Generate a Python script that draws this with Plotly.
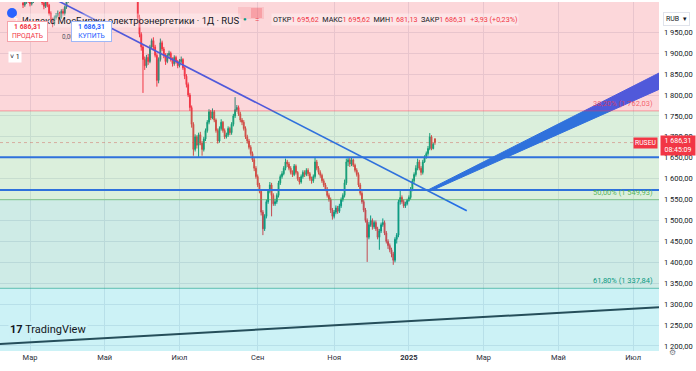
import pandas as pd
import plotly.graph_objects as go

# ---------------- data ----------------
first_day = "2024-02-26"          # first visible daily bar
first_open = 2020.0
last_open = 1695.62               # open of the last bar (from header)

close = [2015, 2022, 2030, 2025,
         2018, 2024, 2035, 2045, 2040, 2038, 2032, 2020, 2012, 2025,
         2015, 1995, 1980, 1970, 1985, 1990, 1995, 1985, 2000, 1995,
         2010, 2025, 2030, 2045, 2040, 2050, 2060, 2055, 2070, 2085,
         2080, 2095, 2110, 2100, 2090, 2105, 2120, 2115, 2130, 2125,
         2140, 2150, 2145, 2135, 2150, 2160, 2155, 2140, 2130, 2145,
         2150, 2135, 2120, 2110, 2125, 2115, 2100, 2090, 2080, 2070,
         2060, 2045, 1985, 1945, 1915, 1885, 1870, 1890, 1880, 1915,
         1930, 1915, 1895, 1835, 1885, 1925, 1910, 1895, 1880, 1895,
         1900, 1885, 1875, 1890, 1880, 1870, 1880, 1885, 1865, 1845,
         1825, 1800, 1770, 1730, 1670, 1700, 1680, 1705, 1685, 1670,
         1695, 1715, 1735, 1760, 1745, 1760, 1740, 1715, 1690, 1720,
         1735, 1715, 1700, 1705, 1720, 1710, 1730, 1750, 1765, 1770,
         1755, 1740, 1735, 1720, 1700, 1690, 1675, 1660, 1645, 1625,
         1605, 1585, 1570, 1520, 1480, 1510, 1545, 1570, 1585, 1560,
         1540, 1545, 1560, 1590, 1605, 1612, 1625, 1640, 1635, 1625,
         1615, 1610, 1630, 1615, 1600, 1592, 1605, 1615, 1610, 1620,
         1612, 1600, 1595, 1605, 1640, 1625, 1615, 1608, 1595, 1585,
         1575, 1560, 1550, 1525, 1510, 1520, 1530, 1522, 1535, 1550,
         1560, 1590, 1640, 1645, 1635, 1645, 1632, 1620, 1610, 1585,
         1565, 1545, 1525, 1500, 1460, 1490, 1500, 1485, 1495, 1480,
         1460, 1475, 1490, 1495, 1470, 1450, 1440, 1430, 1420, 1405,
         1455, 1465, 1545, 1555, 1545, 1535, 1540, 1548, 1555, 1575,
         1595, 1610, 1625, 1640, 1625, 1615, 1640, 1650, 1660, 1672,
         1700, 1672, 1682.38, 1686.31]

high = [2026, 2027, 2036, 2034,
        2030, 2028, 2040, 2052, 2050, 2046, 2042, 2036, 2024, 2030,
        2030, 2018, 2000, 1985, 1990, 1996, 2002, 1999, 2005, 2006,
        2014, 2028, 2036, 2050, 2052, 2055, 2066, 2064, 2075, 2092,
        2090, 2100, 2116, 2115, 2104, 2110, 2126, 2124, 2136, 2134,
        2146, 2158, 2156, 2150, 2156, 2168, 2165, 2160, 2146, 2150,
        2156, 2154, 2140, 2125, 2130, 2128, 2118, 2104, 2094, 2085,
        2075, 2064, 2050, 1992, 1950, 1920, 1892, 1896, 1898, 1920,
        1935, 1938, 1920, 1900, 1890, 1935, 1930, 1915, 1900, 1900,
        1906, 1904, 1890, 1895, 1894, 1884, 1886, 1892, 1888, 1868,
        1850, 1830, 1805, 1775, 1735, 1706, 1704, 1710, 1712, 1690,
        1700, 1720, 1740, 1766, 1764, 1768, 1764, 1744, 1720, 1725,
        1742, 1738, 1720, 1710, 1725, 1724, 1735, 1755, 1795, 1776,
        1775, 1760, 1745, 1740, 1725, 1705, 1695, 1680, 1665, 1650,
        1630, 1610, 1590, 1575, 1525, 1515, 1550, 1575, 1592, 1590,
        1565, 1552, 1565, 1595, 1610, 1618, 1630, 1648, 1645, 1640,
        1630, 1620, 1635, 1634, 1618, 1604, 1610, 1620, 1620, 1625,
        1625, 1616, 1605, 1610, 1652, 1645, 1630, 1620, 1612, 1600,
        1590, 1580, 1565, 1555, 1530, 1525, 1536, 1535, 1540, 1555,
        1565, 1598, 1648, 1652, 1650, 1650, 1648, 1636, 1625, 1615,
        1590, 1570, 1550, 1530, 1505, 1496, 1512, 1505, 1500, 1500,
        1485, 1480, 1495, 1505, 1500, 1475, 1455, 1445, 1435, 1425,
        1460, 1470, 1550, 1573, 1560, 1550, 1545, 1552, 1560, 1580,
        1600, 1615, 1632, 1648, 1645, 1630, 1645, 1656, 1665, 1678,
        1709, 1704, 1686, 1695.62]

low = [2008, 2011, 2018, 2020,
       2012, 2014, 2020, 2032, 2036, 2033, 2028, 2015, 2005, 2008,
       2010, 1990, 1975, 1962, 1966, 1980, 1986, 1980, 1982, 1990,
       1990, 2006, 2020, 2028, 2035, 2036, 2045, 2050, 2052, 2066,
       2074, 2076, 2090, 2095, 2084, 2086, 2100, 2110, 2112, 2118,
       2120, 2135, 2140, 2130, 2130, 2145, 2150, 2135, 2124, 2126,
       2140, 2130, 2115, 2104, 2106, 2110, 2095, 2085, 2075, 2064,
       2055, 2040, 1978, 1938, 1906, 1805, 1860, 1865, 1872, 1876,
       1910, 1908, 1890, 1820, 1828, 1880, 1905, 1888, 1872, 1876,
       1888, 1880, 1868, 1870, 1875, 1864, 1866, 1876, 1860, 1838,
       1818, 1795, 1762, 1722, 1655, 1665, 1672, 1652, 1680, 1655,
       1665, 1690, 1710, 1730, 1740, 1742, 1735, 1710, 1684, 1686,
       1715, 1710, 1695, 1696, 1700, 1704, 1705, 1725, 1745, 1760,
       1750, 1735, 1728, 1715, 1695, 1684, 1670, 1655, 1640, 1618,
       1600, 1580, 1565, 1512, 1465, 1475, 1505, 1540, 1565, 1510,
       1535, 1535, 1540, 1555, 1585, 1600, 1608, 1620, 1628, 1620,
       1610, 1604, 1606, 1610, 1595, 1586, 1588, 1600, 1604, 1606,
       1606, 1595, 1588, 1590, 1600, 1620, 1610, 1602, 1590, 1580,
       1570, 1555, 1545, 1518, 1502, 1505, 1515, 1516, 1518, 1530,
       1545, 1555, 1585, 1630, 1628, 1630, 1628, 1615, 1605, 1580,
       1560, 1540, 1520, 1495, 1401, 1455, 1485, 1478, 1480, 1475,
       1455, 1430, 1470, 1485, 1465, 1445, 1432, 1424, 1412, 1394,
       1400, 1445, 1460, 1538, 1540, 1530, 1530, 1536, 1545, 1550,
       1570, 1590, 1605, 1620, 1620, 1608, 1610, 1638, 1648, 1655,
       1668, 1668, 1670, 1681.13]

# Fibonacci retracement levels (ratio, price)
fib_ratio = [0.236, 0.382, 0.5, 0.618, 0.786]
fib_price = [2024.46, 1762.03, 1549.93, 1337.84, 1035.87]
fib_labeled = [False, True, True, True, False]

# user drawings
hline_prices = [1651.0, 1573.0]
trend_dates = ["2024-03-25", "2025-02-17 07:00"]
trend_prices = [2025.5, 1523.4]
wedge_dates = ["2025-01-16", "2025-08-22", "2025-08-22", "2025-01-21"]
wedge_prices = [1573.0, 1918.0, 1871.0, 1573.0]
base_dates = ["2024-01-01", "2025-09-01"]
base_prices = [1196.5, 1302.0]

# axes
x_range = ["2024-02-06 17:46", "2025-07-21 21:36"]
y_range = [1188.0, 2022.4]
price_ticks = [1200, 1250, 1300, 1350, 1400, 1450, 1500, 1550, 1600,
               1650, 1700, 1750, 1800, 1850, 1900, 1950]
month_ticks = ["2024-03-01", "2024-05-01", "2024-07-01", "2024-09-02",
               "2024-11-01", "2025-01-01", "2025-03-03", "2025-05-01",
               "2025-07-01"]
month_labels = ["Мар", "Май", "Июл", "Сен", "Ноя", "<b>2025</b>",
                "Мар", "Май", "Июл"]

title_text = "Индекс МосБиржи электроэнергетики · 1Д · RUS"
symbol_tag = "RUSEU"
countdown = "08:45:09"

# ---------------- helpers ----------------
def fmt(v):
    return f"{v:,.2f}".replace(",", " ").replace(".", ",")

dates = pd.bdate_range(first_day, periods=len(close))
opens = [first_open] + close[:-1]
opens[-1] = last_open

UP, DOWN = "#089981", "#f23645"
BLUE = "#2962ff"
PL, PR, PT, PB = 0, 659, 2, 351


def px(x):
    return (x - PL) / (PR - PL)


def py(y):
    return (PB - y) / (PB - PT)


fig = go.Figure()

fig.add_trace(go.Candlestick(
    x=dates, open=opens, high=high, low=low, close=close,
    increasing=dict(line=dict(color=UP, width=1), fillcolor=UP),
    decreasing=dict(line=dict(color=DOWN, width=1), fillcolor=DOWN),
    whiskerwidth=0, hoverinfo="skip"))

# last price dotted line
fig.add_trace(go.Scatter(x=x_range, y=[close[-1], close[-1]], mode="lines",
                         line=dict(color=DOWN, width=1, dash="dot"),
                         opacity=0.4, hoverinfo="skip"))

# long-term dark trend line
fig.add_trace(go.Scatter(x=base_dates, y=base_prices, mode="lines",
                         line=dict(color="#2f323c", width=2), hoverinfo="skip"))

# horizontal levels
for p in hline_prices:
    fig.add_trace(go.Scatter(x=x_range, y=[p, p], mode="lines",
                             line=dict(color=BLUE, width=2), hoverinfo="skip"))

# descending trend line
fig.add_trace(go.Scatter(x=trend_dates, y=trend_prices, mode="lines",
                         line=dict(color=BLUE, width=1.6), hoverinfo="skip"))

# thick rising wedge
fig.add_trace(go.Scatter(x=wedge_dates, y=wedge_prices, mode="lines",
                         fill="toself", fillcolor=BLUE,
                         line=dict(color=BLUE, width=1), hoverinfo="skip"))

# ---------------- fib zones (drawn above the series, translucent) ----------
zone_colors = ["rgba(242,54,69,0.2)", "rgba(76,175,80,0.2)",
               "rgba(8,153,129,0.2)", "rgba(0,188,212,0.2)"]
line_colors = ["rgba(242,54,69,0.35)", "rgba(242,54,69,0.35)",
               "rgba(76,175,80,0.45)", "rgba(8,153,129,0.45)",
               "rgba(0,188,212,0.45)"]
label_colors = ["#f23645", "rgba(242,54,69,0.75)", "rgba(76,175,80,0.95)",
                "#089981", "#00bcd4"]
shapes = []
for i in range(len(fib_price) - 1):
    shapes.append(dict(type="rect", xref="paper", yref="y", x0=0, x1=1,
                       y0=fib_price[i + 1], y1=fib_price[i],
                       fillcolor=zone_colors[i], line=dict(width=0),
                       layer="above"))
for i, p in enumerate(fib_price):
    shapes.append(dict(type="line", xref="paper", yref="y", x0=0, x1=1,
                       y0=p, y1=p, line=dict(color=line_colors[i], width=1.2),
                       layer="above"))

# header icon + status pill
shapes.append(dict(type="circle", xref="paper", yref="paper",
                   x0=px(7), x1=px(17), y0=py(18), y1=py(8),
                   fillcolor=BLUE, line=dict(width=0), layer="above"))
shapes.append(dict(type="rect", xref="paper", yref="paper",
                   x0=px(238), x1=px(264), y0=py(19), y1=py(7),
                   fillcolor="rgba(242,54,69,0.12)", line=dict(width=0),
                   layer="above"))
shapes.append(dict(type="rect", xref="paper", yref="paper",
                   x0=px(251), x1=px(262), y0=py(18), y1=py(8),
                   fillcolor="rgba(242,54,69,0.25)", line=dict(width=0),
                   layer="above"))

annotations = []
for i, p in enumerate(fib_price):
    if not fib_labeled[i]:
        continue
    txt = f"{fib_ratio[i] * 100:.2f}".replace(".", ",") + "% (" + fmt(p) + ")"
    annotations.append(dict(xref="paper", yref="y", x=px(655), y=p,
                            xanchor="right", yanchor="bottom", yshift=1,
                            text=txt, showarrow=False,
                            font=dict(size=7.5, color=label_colors[i])))

red = lambda s: f"<span style='color:{DOWN}'>{s}</span>"
chg = close[-1] - close[-2]
pct = chg / close[-2] * 100
nb = "\u00a0"
ohlc = ("ОТКР" + red(fmt(opens[-1])) + nb * 2 + "МАКС" + red(fmt(high[-1])) + nb * 2 +
        "МИН" + red(fmt(low[-1])) + nb * 2 + "ЗАКР" + red(fmt(close[-1])) + nb * 2 +
        red(("+" if chg >= 0 else "") + fmt(chg) + " (" + ("+" if pct >= 0 else "") +
            f"{pct:.2f}".replace(".", ",") + "%)"))

annotations += [
    dict(xref="paper", yref="paper", x=px(12), y=py(13), text="ϟ",
         showarrow=False, font=dict(size=7, color="white")),
    dict(xref="paper", yref="paper", x=px(20), y=py(13), xanchor="left",
         text=title_text, showarrow=False, bgcolor="rgba(255,255,255,0.3)",
         font=dict(size=9.5, color="#131722")),
    dict(xref="paper", yref="paper", x=px(245), y=py(13), text="●",
         showarrow=False, font=dict(size=6, color=UP)),
    dict(xref="paper", yref="paper", x=px(256.5), y=py(13), text="=",
         showarrow=False, font=dict(size=8, color=DOWN)),
    dict(xref="paper", yref="paper", x=px(271), y=py(13), xanchor="left",
         text=ohlc, showarrow=False, bgcolor="rgba(255,255,255,0.35)",
         font=dict(size=7.2, color="#131722")),
    dict(xref="paper", yref="paper", x=px(7), y=py(21), xanchor="left",
         yanchor="top", text="<b>" + fmt(close[-1]) + "</b><br>ПРОДАТЬ",
         showarrow=False, bgcolor="white", bordercolor="#f5a3aa",
         borderwidth=1, borderpad=1, width=37,
         font=dict(size=6.8, color=DOWN)),
    dict(xref="paper", yref="paper", x=px(60), y=py(31), text="0,00",
         showarrow=False, font=dict(size=6.3, color="#50535e")),
    dict(xref="paper", yref="paper", x=px(71), y=py(21), xanchor="left",
         yanchor="top", text="<b>" + fmt(close[-1]) + "</b><br>КУПИТЬ",
         showarrow=False, bgcolor="white", bordercolor="#9fb7f7",
         borderwidth=1, borderpad=1, width=37,
         font=dict(size=6.8, color=BLUE)),
    dict(xref="paper", yref="paper", x=px(8), y=py(51), xanchor="left",
         text="˅ 1", showarrow=False, bgcolor="white",
         font=dict(size=7, color="#131722")),
    dict(xref="paper", yref="paper", x=px(8), y=py(338), xanchor="left",
         text="<b>17</b> TradingView", showarrow=False, bgcolor="#ccf1f6",
         font=dict(size=11, color="#131722")),
    dict(xref="paper", yref="paper", x=px(663), y=py(12), xanchor="left",
         text="RUB " + nb + "▾", showarrow=False, bgcolor="white",
         bordercolor="#e0e3eb", borderwidth=1, borderpad=2,
         font=dict(size=7, color="#131722")),
    dict(xref="paper", yref="y", x=px(658), y=close[-1], xanchor="right",
         yanchor="middle", text=symbol_tag, showarrow=False,
         bgcolor=DOWN, borderpad=1, font=dict(size=6.8, color="white")),
    dict(xref="paper", yref="y", x=px(660), y=close[-1], xanchor="left",
         yanchor="middle", yshift=-3, text=fmt(close[-1]) + "<br>" + countdown,
         showarrow=False, bgcolor=DOWN, borderpad=1, width=32,
         font=dict(size=7, color="white")),
    dict(xref="paper", yref="paper", x=px(678), y=py(359), text="⚙",
         showarrow=False, font=dict(size=8, color="#787b86")),
]

fig.update_layout(
    width=696, height=371,
    margin=dict(l=PL, r=696 - PR, t=PT, b=371 - PB),
    paper_bgcolor="white", plot_bgcolor="white",
    showlegend=False, hovermode=False, boxgap=0.3,
    font=dict(family="Roboto, sans-serif", size=8, color="#131722"),
    xaxis=dict(type="date", range=x_range,
               rangebreaks=[dict(bounds=["sat", "mon"])],
               tickvals=month_ticks, ticktext=month_labels,
               showgrid=True, gridcolor="#e6e9ef", zeroline=False,
               showline=False, ticks="", rangeslider=dict(visible=False),
               tickfont=dict(size=7.5, color="#2a2e39")),
    yaxis=dict(side="right", range=y_range, tickvals=price_ticks,
               ticktext=[fmt(v) for v in price_ticks], showgrid=True,
               gridcolor="#e6e9ef", zeroline=False, showline=False,
               ticks="", ticklabelstandoff=4,
               tickfont=dict(size=7.5, color="#131722")),
    shapes=shapes, annotations=annotations,
)

fig.write_html(
    "out.html",
    config={"displayModeBar": False},
    post_script="document.body.style.margin='0';document.body.style.padding='0';"
                "document.documentElement.style.overflow='hidden';",
)
